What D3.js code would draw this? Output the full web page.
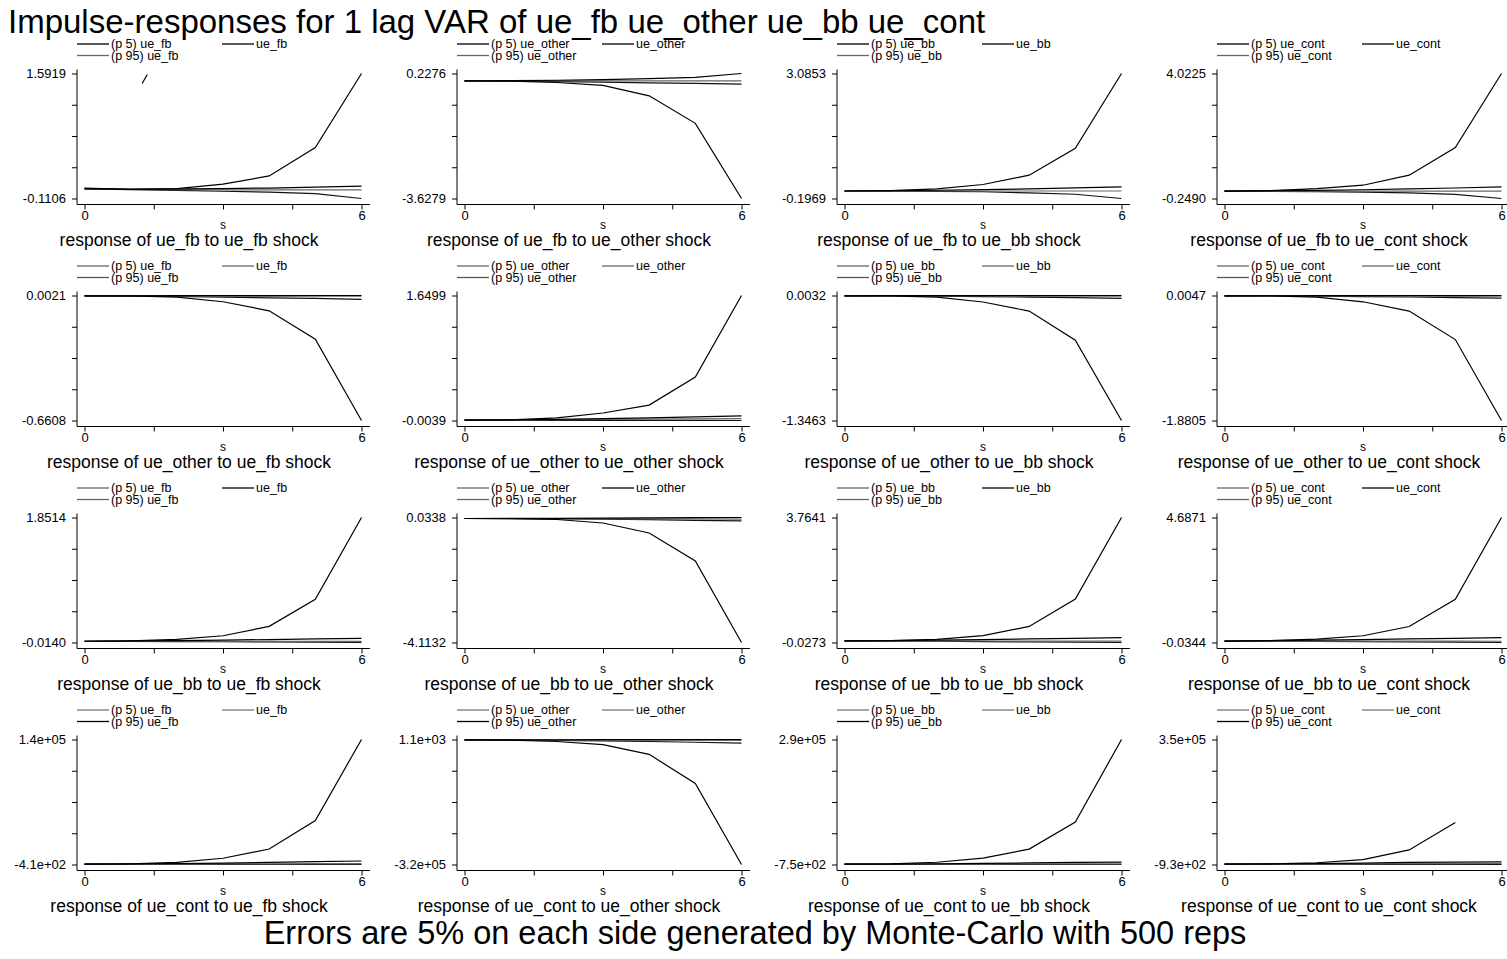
<!DOCTYPE html>
<html>
<head>
<meta charset="utf-8">
<script src="https://cdn.jsdelivr.net/npm/d3@7"></script>
<style>
  body { margin: 0; background: #fff; }
  text { font-family: "Liberation Sans", Arial, sans-serif; fill: #000; }
</style>
</head>
<body>
<svg id="chart" width="1507" height="959"></svg>
<script>
// variables of the VAR (rows = response, cols = shock)
const responseVars = ["ue_fb", "ue_other", "ue_bb", "ue_cont"]
const shockVars = ["ue_fb", "ue_other", "ue_bb", "ue_cont"]
const steps = [0, 1, 2, 3, 4, 5, 6]
const xTicks = [0, 1.5, 3, 4.5, 6]

// y axis labels (min / max) for each panel, row by row
const yMaxLabels = [
  ["1.5919", "0.2276", "3.0853", "4.0225"],
  ["0.0021", "1.6499", "0.0032", "0.0047"],
  ["1.8514", "0.0338", "3.7641", "4.6871"],
  ["1.4e+05", "1.1e+03", "2.9e+05", "3.5e+05"]
]
const yMinLabels = [
  ["-0.1106", "-3.6279", "-0.1969", "-0.2490"],
  ["-0.6608", "-0.0039", "-1.3463", "-1.8805"],
  ["-0.0140", "-4.1132", "-0.0273", "-0.0344"],
  ["-4.1e+02", "-3.2e+05", "-7.5e+02", "-9.3e+02"]
]

// the explosive line in each panel
const bigLine = [
  [0.03, 0.015, 0.025, 0.084, 0.197, 0.584, 1.5919],
  [0.0, -0.005, -0.05, -0.14, -0.46, -1.31, -3.6279],
  [0.0, 0.01, 0.055, 0.17, 0.415, 1.124, 3.0853],
  [0.0, 0.02, 0.09, 0.205, 0.547, 1.49, 4.0225],
  [0.0, 0.0, -0.007, -0.031, -0.079, -0.23, -0.6608],
  [0.0, 0.005, 0.03, 0.095, 0.2, 0.57, 1.6499],
  [0.0, 0.0, -0.015, -0.067, -0.165, -0.48, -1.3463],
  [0.0, 0.0, -0.02, -0.09, -0.23, -0.66, -1.8805],
  [0.005, 0.01, 0.034, 0.087, 0.227, 0.63, 1.8514],
  [0.0, -0.005, -0.033, -0.148, -0.48, -1.41, -4.1132],
  [0.02, 0.03, 0.07, 0.18, 0.46, 1.29, 3.7641],
  [0.02, 0.035, 0.09, 0.22, 0.57, 1.6, 4.6871],
  [0, 300, 2000, 6600, 17000, 49000, 140000],
  [0, -500, -4000, -12000, -37000, -112000, -320000],
  [0, 500, 4500, 14000, 35000, 98000, 290000],
  [0, 600, 4000, 13000, 40000, 117000, null]
]
const upperLine = [
  [0.02, 0.018, 0.02, 0.025, 0.032, 0.044, 0.057],
  [0.0, 0.01, 0.02, 0.04, 0.07, 0.11, 0.2276],
  [0.0, 0.01, 0.02, 0.035, 0.055, 0.08, 0.108],
  [0.0, 0.02, 0.03, 0.05, 0.08, 0.11, 0.15],
  [0.0, 0.0005, 0.001, 0.0015, 0.0018, 0.002, 0.0021],
  [0.0, 0.005, 0.012, 0.02, 0.03, 0.043, 0.056],
  [0.0, 0.001, 0.0015, 0.002, 0.0025, 0.003, 0.0032],
  [0.0, 0.001, 0.002, 0.003, 0.0038, 0.0043, 0.0047],
  [0.005, 0.01, 0.015, 0.022, 0.03, 0.04, 0.048],
  [0.0, 0.003, 0.008, 0.014, 0.02, 0.027, 0.0338],
  [0.02, 0.03, 0.045, 0.06, 0.08, 0.1, 0.12],
  [0.02, 0.035, 0.055, 0.075, 0.1, 0.125, 0.15],
  [0, 200, 600, 1200, 2000, 2800, 3500],
  [0, 200, 400, 600, 800, 1000, 1100],
  [0, 300, 900, 1800, 2800, 4000, 5000],
  [0, 500, 1500, 3000, 4800, 6000, 6600]
]
const middleLine = [
  [0.02, 0.012, 0.01, 0.008, 0.008, 0.007, 0.007],
  [0.0, 0.002, 0.003, 0.003, 0.003, 0.002, 0.0],
  [0.0, 0.0, 0.0, 0.0, 0.0, 0.0, 0.0],
  [0.0, 0.0, 0.0, 0.0, 0.0, 0.0, 0.0],
  [0.0, 0.0, 0.0, -0.001, -0.001, -0.001, -0.001],
  [0.0, 0.003, 0.006, 0.01, 0.014, 0.018, 0.022],
  [0.0, 0.0, 0.0, -0.002, -0.003, -0.004, -0.005],
  [0.0, 0.0, -0.001, -0.002, -0.003, -0.004, -0.005],
  [0.005, 0.006, 0.006, 0.005, 0.005, 0.004, 0.004],
  [0.0, 0.0, 0.0, -0.005, -0.01, -0.015, -0.02],
  [0.02, 0.02, 0.02, 0.018, 0.016, 0.014, 0.012],
  [0.02, 0.02, 0.02, 0.018, 0.016, 0.014, 0.012],
  [0, 100, 200, 300, 400, 500, 500],
  [0, 0, -200, -400, -600, -800, -1000],
  [0, 100, 200, 300, 400, 500, 500],
  [0, 200, 600, 1000, 1400, 1700, 1900]
]
const lowerLine = [
  [0.02, 0.01, 0.0, -0.012, -0.025, -0.045, -0.1106],
  [0.0, -0.005, -0.02, -0.04, -0.06, -0.08, -0.10],
  [0.0, -0.005, -0.01, -0.02, -0.05, -0.085, -0.1969],
  [0.0, -0.005, -0.015, -0.03, -0.06, -0.11, -0.249],
  [0.0, -0.001, -0.003, -0.006, -0.01, -0.013, -0.018],
  [0.0, 0.0, -0.001, -0.002, -0.003, -0.0035, -0.0039],
  [0.0, -0.002, -0.005, -0.009, -0.014, -0.02, -0.027],
  [0.0, -0.002, -0.006, -0.011, -0.018, -0.026, -0.035],
  [0.005, 0.003, 0.0, -0.003, -0.006, -0.01, -0.014],
  [0.0, -0.005, -0.012, -0.025, -0.04, -0.06, -0.08],
  [0.02, 0.015, 0.01, 0.0, -0.008, -0.017, -0.0273],
  [0.02, 0.015, 0.008, 0.0, -0.01, -0.022, -0.0344],
  [0, -50, -100, -200, -280, -350, -410],
  [0, -400, -1200, -2500, -4000, -6000, -8000],
  [0, -100, -200, -350, -500, -650, -750],
  [0, -100, -250, -400, -600, -800, -930]
]
// stray little segment seen in the first panel
const strayX = [1.25, 1.36]
const strayY = [1.456, 1.578]

const legendColors = [
  ["#000", "#000", "#666"],
  ["#666", "#666", "#555"],
  ["#666", "#000", "#666"],
  ["#777", "#777", "#000"]
]

const svg = d3.select("#chart")
svg.append("rect").attr("width", 1507).attr("height", 959).attr("fill", "#fff")

svg.append("text")
  .attr("x", 8).attr("y", 33)
  .style("font-size", "33px")
  .text("Impulse-responses for 1 lag VAR of ue_fb ue_other ue_bb ue_cont")

svg.append("text")
  .attr("x", 755).attr("y", 944)
  .attr("text-anchor", "middle")
  .style("font-size", "32.5px")
  .text("Errors are 5% on each side generated by Monte-Carlo with 500 reps")

for (let r = 0; r < 4; r++) {
  for (let c = 0; c < 4; c++) {
    const i = r * 4 + c
    const left = c * 380
    const top = 73.5 + r * 222
    const bot = top + 125
    const yMin = +yMinLabels[r][c], yMax = +yMaxLabels[r][c]

    const x = d3.scaleLinear().domain([0, 6]).range([left + 84.5, left + 361.5])
    const y = d3.scaleLinear().domain([yMin, yMax]).range([bot, top])
    const g = svg.append("g")

    // y axis
    const yTicks = d3.range(5).map(k => yMin + k * (yMax - yMin) / 4)
    const yAxis = g.append("g")
      .attr("transform", `translate(${left + 77},0)`)
      .call(d3.axisLeft(y).tickValues(yTicks).tickSize(5).tickPadding(6)
        .tickFormat((d, k) => k === 0 ? yMinLabels[r][c] : (k === 4 ? yMaxLabels[r][c] : "")))
    yAxis.select(".domain").remove()
    yAxis.selectAll("text").style("font-size", "13px").style("font-family", "Liberation Sans, Arial, sans-serif")
    g.append("line")
      .attr("x1", left + 77).attr("x2", left + 77)
      .attr("y1", top - 4).attr("y2", bot + 6)
      .attr("stroke", "#000")

    // x axis
    const xAxis = g.append("g")
      .attr("transform", `translate(0,${bot + 6})`)
      .call(d3.axisBottom(x).tickValues(xTicks).tickSize(5).tickPadding(1)
        .tickFormat(d => (d === 0 || d === 6) ? d : ""))
    xAxis.select(".domain").remove()
    xAxis.selectAll("text").style("font-size", "13px").style("font-family", "Liberation Sans, Arial, sans-serif")
    g.append("line")
      .attr("x1", left + 77).attr("x2", left + 370)
      .attr("y1", bot + 6).attr("y2", bot + 6)
      .attr("stroke", "#000")

    g.append("text")
      .attr("x", x(3)).attr("y", bot + 30)
      .attr("text-anchor", "middle")
      .style("font-size", "12px")
      .text("s")

    g.append("text")
      .attr("x", left + 189).attr("y", bot + 47)
      .attr("text-anchor", "middle")
      .style("font-size", "17.5px")
      .text(`response of ${responseVars[r]} to ${shockVars[c]} shock`)

    // lines
    const line = d3.line()
      .defined(d => d !== null)
      .x((d, k) => x(steps[k]))
      .y(d => y(d))
    const series = [
      [lowerLine[i], "#111"],
      [middleLine[i], "#666"],
      [upperLine[i], "#000"],
      [bigLine[i], "#000"]
    ]
    series.forEach(([vals, col]) => {
      g.append("path")
        .attr("d", line(vals))
        .attr("fill", "none")
        .attr("stroke", col)
        .attr("stroke-width", 1.2)
    })
    if (i === 0) {
      g.append("path")
        .attr("d", d3.line().x(d => x(d[0])).y(d => y(d[1]))(d3.zip(strayX, strayY)))
        .attr("fill", "none").attr("stroke", "#000").attr("stroke-width", 1.2)
    }

    // legend
    const legItems = [
      [`(p 5) ${shockVars[c]}`, left + 77, top - 29.5],
      [shockVars[c], left + 222, top - 29.5],
      [`(p 95) ${shockVars[c]}`, left + 77, top - 18]
    ]
    legItems.forEach(([label, lx, ly], k) => {
      g.append("line")
        .attr("x1", lx).attr("x2", lx + 32)
        .attr("y1", ly).attr("y2", ly)
        .attr("stroke", legendColors[r][k]).attr("stroke-width", 1.3)
      g.append("text")
        .attr("x", lx + 34).attr("y", ly + 4)
        .style("font-size", "12.5px")
        .text(label)
    })
  }
}
</script>
</body>
</html>
